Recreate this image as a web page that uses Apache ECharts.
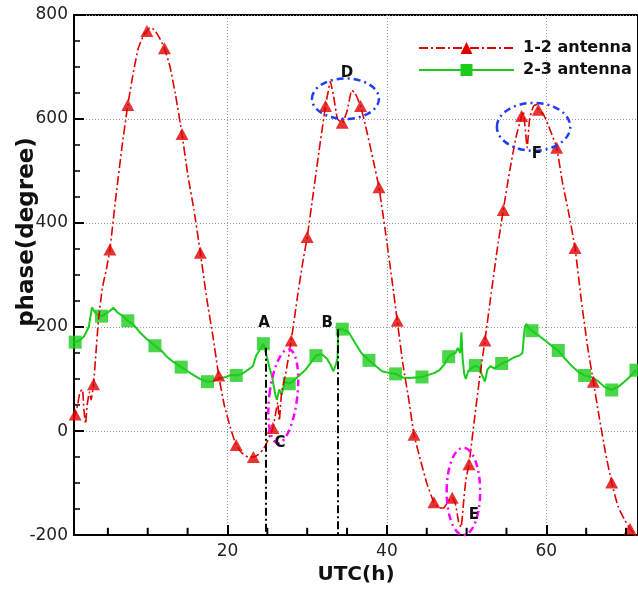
<!DOCTYPE html>
<html>
<head>
<meta charset="utf-8">
<script src="https://cdn.jsdelivr.net/npm/echarts@6/dist/echarts.min.js"></script>
<style>
  html, body { margin: 0; padding: 0; background: #fff; }
  #chart { width: 638px; height: 590px; }
</style>
</head>
<body>
<div id="chart"></div>
<script>
// 1-2 antenna phase trace (UTC hour, degree)
const redTrace = [
  [0.75,22],[1.2,50],[1.5,75],[1.8,80],[2.0,40],[2.2,14],[2.4,50],[2.7,75],[2.9,60],
  [3.5,150],[3.8,210],[4.3,275],[4.8,310],[6.0,450],[6.8,550],[8.2,690],[8.8,735],
  [9.5,762],[10.3,776],[10.8,772],[11.4,758],[12.8,700],[13.5,645],[15.0,495],[15.8,425],
  [17.4,255],[18.2,180],[19.6,50],[20.4,5],[21.8,-42],[22.6,-50],[23.9,-45],[24.5,-35],
  [25.0,-20],[25.4,-5],[26.0,30],[26.3,55],[26.5,20],[26.8,75],[27.3,110],[28.8,260],
  [29.4,320],[30.7,450],[31.5,540],[32.6,650],[32.9,672],[33.3,645],[33.8,600],[35.0,615],
  [35.6,655],[36.0,650],[37.5,575],[38.3,520],[39.8,385],[40.6,295],[42.0,130],[42.8,55],
  [44.2,-55],[45.0,-100],[46.6,-148],[47.2,-147],[47.7,-135],[48.6,-140],[49.0,-175],
  [49.3,-185],[49.6,-140],[49.9,-95],[51.0,25],[51.7,110],[53.0,255],[53.8,345],[55.4,500],
  [56.2,565],[57.1,615],[57.3,590],[57.6,545],[57.9,600],[58.4,625],[58.8,628],[59.6,610],
  [60.2,590],[60.7,570],[62.0,480],[62.8,420],[64.4,250],[65.2,160],[66.6,30],[67.4,-40],
  [69.0,-145],[69.8,-170],[71.0,-197],[71.5,-205]
];
// 1-2 antenna marker samples
const redMarks = [
  [0.9,32],[3.2,90],[5.25,349],[7.5,627],[9.9,769],[12.1,736],[14.3,571],[16.6,343],
  [18.9,107],[21.1,-27],[23.25,-50],[25.7,6],[28.0,174],[30.0,373],[32.3,625],[34.4,593],
  [36.7,625],[39.0,469],[41.3,212],[43.4,-7],[45.9,-137],[48.2,-128],[50.3,-64],[52.3,174],
  [54.6,425],[56.9,606],[59.0,618],[61.3,545],[63.6,352],[65.9,95],[68.2,-99],[70.5,-188]
];
// 2-3 antenna phase trace
const greenTrace = [
  [0.75,170],[1.5,175],[2.0,182],[2.6,200],[3.0,238],[3.3,230],[3.6,225],[5.0,228],[5.7,237],
  [6.2,228],[6.8,222],[8.2,205],[9.0,190],[9.8,178],[11.7,155],[12.4,143],[13.2,133],
  [15.0,115],[15.8,107],[16.6,100],[18.2,96],[19.0,101],[19.8,104],[20.5,108],[21.8,110],
  [22.6,118],[23.2,125],[23.6,145],[24.0,155],[25.0,140],[25.3,120],[25.6,105],[26.0,70],
  [26.2,60],[26.5,80],[26.8,70],[27.2,95],[28.4,98],[29.0,107],[29.8,118],[30.4,130],
  [31.8,148],[32.5,139],[33.0,125],[33.3,115],[33.6,128],[33.8,140],[33.9,196],[35.2,190],
  [36.0,170],[36.8,150],[38.6,125],[39.4,115],[40.2,112],[42.0,103],[42.8,102],[43.6,103],
  [45.2,108],[46.0,112],[46.6,117],[47.2,128],[48.2,148],[48.6,150],[48.9,160],[49.2,150],
  [49.35,190],[49.5,140],[49.7,110],[49.9,100],[50.2,115],[50.5,120],[51.6,122],[52.0,105],
  [52.3,95],[52.6,118],[53.0,125],[53.5,120],[55.2,135],[56.0,142],[56.6,145],[57.0,150],
  [57.3,200],[57.5,206],[57.8,198],[59.2,182],[60.2,170],[61.0,160],[62.3,140],[63.2,125],
  [64.0,114],[65.6,104],[66.5,96],[67.3,85],[69.0,85],[69.8,95],[70.5,105]
];
// 2-3 antenna marker samples
const greenMarks = [
  [0.9,171],[4.2,221],[7.5,212],[10.9,164],[14.2,123],[17.5,95],[21.1,107],[24.5,168],
  [27.75,91],[31.1,145],[34.4,196],[37.75,136],[41.1,110],[44.4,104],[47.75,143],[51.1,126],
  [54.4,130],[58.2,193],[61.5,155],[64.8,107],[68.2,79],[71.25,117]
];

const seriesNames = ['1-2 antenna', '2-3 antenna'];
const xMajorTicks = [20, 40, 60];
const xMinorTicks = [5, 10, 15, 25, 30, 35, 45, 50, 55, 65, 70];
const xRange = [0.75, 71.5];
const yRange = [-200, 800];
const minorTickSpan = 14; // degrees covered by a minor hour tick

// event markers A and B: [hour, top of the drop line in degree]
const eventLines = [[24.8, 160], [33.8, 196]];
// event letters: [label, hour, degree]
const eventLabels = [['A',24.6,208],['B',32.5,208],['C',26.6,-23],['D',35.0,688],['E',50.9,-162],['F',58.8,533]];
// highlighted regions: centre [hour, degree], half-spans [hour, degree]
const ringCenters = [[27.0,67],[34.8,639],[49.6,-116],[58.4,585]];
const ringSpans   = [[1.75,91],[4.2,39],[2.1,84],[4.6,46]];
const ringKinds   = ['magenta','blue','magenta','blue'];

const RED = '#e00000';
const GREEN = '#1ccc1c';
const FONT = 'DejaVu Sans';
const ringColor = { magenta: '#ff00ff', blue: '#1f3cff' };

const byX = (a, b) => a.concat(b).sort((p, q) => p[0] - q[0]);

const chart = echarts.init(document.getElementById('chart'), null, { renderer: 'canvas' });

const axisBlack = { color: '#000', width: 2 };

chart.setOption({
  backgroundColor: '#fff',
  animation: false,
  grid: { left: 74, top: 15, width: 566, height: 523, show: true, borderColor: '#000', borderWidth: 2, backgroundColor: 'transparent' },
  legend: {
    data: seriesNames,
    orient: 'vertical',
    left: 413, top: 35,
    itemWidth: 95, itemHeight: 15, itemGap: 6,
    selectedMode: false,
    textStyle: { fontFamily: FONT, fontWeight: 'bold', fontSize: 16, color: '#111', padding: [0, 0, 0, 4] }
  },
  xAxis: {
    type: 'value', min: xRange[0], max: xRange[1], position: 'bottom',
    name: 'UTC(h)', nameLocation: 'middle', nameGap: 26,
    nameTextStyle: { fontFamily: FONT, fontWeight: 'bold', fontSize: 20, color: '#111' },
    axisLine: { show: true, onZero: false, lineStyle: axisBlack },
    axisTick: { show: true, customValues: xMajorTicks, inside: true, length: 10, lineStyle: axisBlack },
    axisLabel: { customValues: xMajorTicks, fontFamily: FONT, fontSize: 17, color: '#222', margin: 8 },
    splitLine: { show: true, lineStyle: { color: '#999', width: 1, type: [1, 2] } }
  },
  yAxis: {
    type: 'value', min: yRange[0], max: yRange[1], interval: 200,
    axisLine: { show: true, onZero: false, lineStyle: axisBlack },
    axisTick: { show: true, inside: true, length: 10, lineStyle: axisBlack },
    minorTick: { show: true, splitNumber: 4, length: 6, lineStyle: { color: '#000', width: 1.5 } },
    axisLabel: { fontFamily: FONT, fontSize: 17, color: '#222', margin: 6 },
    splitLine: { show: true, lineStyle: { color: '#999', width: 1, type: [1, 2] } }
  },
  series: [
    {
      name: seriesNames[1], type: 'line', data: byX(greenTrace, greenMarks),
      symbol: 'rect', symbolSize: 13, showSymbol: false,
      lineStyle: { color: GREEN, width: 2 }, itemStyle: { color: GREEN },
      z: 2, silent: true,
      markLine: {
        silent: true, symbol: 'none', label: { show: false },
        lineStyle: { color: '#000', width: 2, type: [8, 3, 2, 3] },
        data: eventLines.map(([x, top]) => [{ coord: [x, top] }, { coord: [x, yRange[0]] }])
      }
    },
    {
      name: seriesNames[1], type: 'scatter', data: greenMarks,
      symbol: 'rect', symbolSize: 13, itemStyle: { color: GREEN }, z: 3, silent: true
    },
    {
      name: seriesNames[0], type: 'line', data: byX(redTrace, redMarks),
      symbol: 'triangle', symbolSize: 13, showSymbol: false, smooth: 0.15,
      lineStyle: { color: RED, width: 1.6, type: [9, 3, 2, 3] }, itemStyle: { color: RED },
      z: 4, silent: true
    },
    {
      name: seriesNames[0], type: 'scatter', data: redMarks,
      symbol: 'triangle', symbolSize: [13, 12], itemStyle: { color: RED }, z: 5, silent: true
    }
  ]
});

// Annotations placed through the axis scales
const px = (p) => chart.convertToPixel({ xAxisIndex: 0, yAxisIndex: 0 }, p);
const graphics = [];

graphics.push({
  type: 'text', x: 27, y: 232, rotation: Math.PI / 2, silent: true,
  style: { text: 'phase(degree)', font: 'bold 23px "' + FONT + '"', fill: '#111', align: 'center', verticalAlign: 'middle' }
});

// minor hour ticks along the bottom edge
xMinorTicks.forEach((x) => {
  const [x1, y1] = px([x, yRange[0]]);
  const [, y2] = px([x, yRange[0] + minorTickSpan]);
  graphics.push({
    type: 'line', silent: true, z: 50,
    shape: { x1: x1, y1: y1, x2: x1, y2: y2 },
    style: { stroke: '#000', lineWidth: 2 }
  });
});

ringCenters.forEach((c, i) => {
  const [cx, cy] = px(c);
  const [ex] = px([c[0] + ringSpans[i][0], c[1]]);
  const [, ey] = px([c[0], c[1] + ringSpans[i][1]]);
  graphics.push({
    type: 'ellipse', x: cx, y: cy, silent: true, z: 100,
    rotation: i === 0 ? -0.12 : 0,
    shape: { cx: 0, cy: 0, rx: Math.abs(ex - cx), ry: Math.abs(cy - ey) },
    style: { fill: 'none', stroke: ringColor[ringKinds[i]], lineWidth: 2.5, lineDash: [7, 4, 2, 4] }
  });
});

eventLabels.forEach(([t, x, y]) => {
  const [lx, ly] = px([x, y]);
  graphics.push({
    type: 'text', x: lx, y: ly, silent: true, z: 101,
    style: { text: t, font: 'bold 15px "' + FONT + '"', fill: '#111', align: 'center', verticalAlign: 'middle' }
  });
});

chart.setOption({ graphic: graphics });
</script>
</body>
</html>
